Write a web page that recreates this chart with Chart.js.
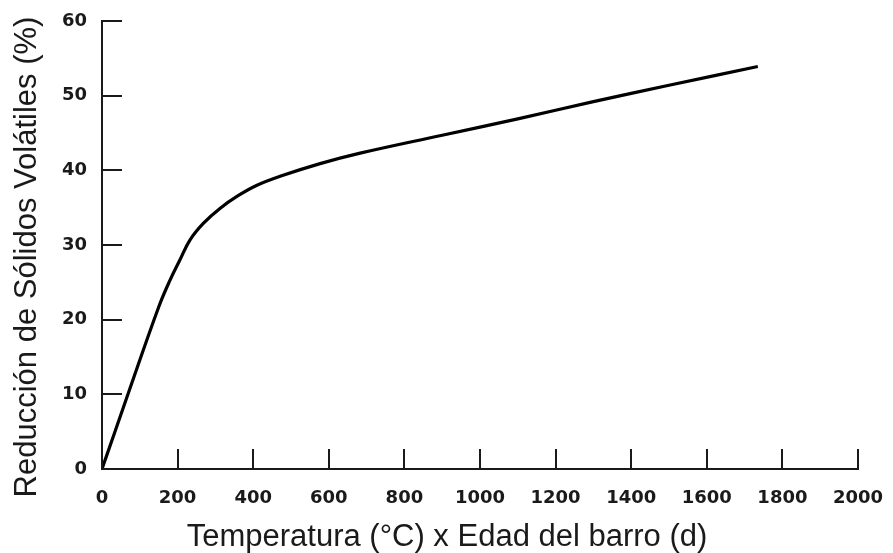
<!DOCTYPE html>
<html>
<head>
<meta charset="utf-8">
<script src="https://cdn.jsdelivr.net/npm/chart.js@4"></script>
<style>
  html, body { margin: 0; padding: 0; background: #fff; }
  #wrap { width: 893px; height: 553px; }
</style>
</head>
<body>
<div id="wrap"><canvas id="myChart" width="893" height="553"></canvas></div>
<script>
// valores
var xVals = [0, 70, 150, 180, 206, 233, 268, 312, 360, 410, 471, 577, 683, 900, 1100, 1300, 1500, 1735];
var yVals = [0, 10.2, 21.7, 25.3, 28.0, 30.7, 32.9, 34.9, 36.6, 38.0, 39.2, 40.9, 42.3, 44.7, 46.9, 49.2, 51.4, 53.9];
var xTicks = [0, 200, 400, 600, 800, 1000, 1200, 1400, 1600, 1800, 2000];
var yTicks = [0, 10, 20, 30, 40, 50, 60];
var xTitle = 'Temperatura (°C) x Edad del barro (d)';
var yTitle = 'Reducción de Sólidos Volátiles (%)';

var points = xVals.map(function (x, i) { return { x: x, y: yVals[i] }; });

// marcas de eje hacia dentro + titulos de ejes
var axisExtras = {
  id: 'axisExtras',
  afterDraw: function (chart) {
    var ctx = chart.ctx;
    var xs = chart.scales.x, ys = chart.scales.y;
    var area = chart.chartArea;
    ctx.save();
    ctx.strokeStyle = '#1a1a1a';
    ctx.lineWidth = 2;
    ctx.beginPath();
    yTicks.forEach(function (v) {
      var py = Math.round(ys.getPixelForValue(v));
      ctx.moveTo(area.left, py);
      ctx.lineTo(area.left + 20, py);
    });
    xTicks.forEach(function (v) {
      var px = Math.round(xs.getPixelForValue(v));
      ctx.moveTo(px, area.bottom);
      ctx.lineTo(px, area.bottom - 20);
    });
    ctx.stroke();

    ctx.fillStyle = '#1a1a1a';
    ctx.font = '31px "Liberation Sans", Arial, sans-serif';
    ctx.textAlign = 'center';
    ctx.textBaseline = 'alphabetic';
    ctx.fillText(xTitle, 447, 546);

    ctx.translate(36, 257);
    ctx.rotate(-Math.PI / 2);
    ctx.fillText(yTitle, 0, 0);
    ctx.restore();
  }
};

var tickFont = { family: 'DejaVu Sans', size: 18, weight: 'bold', lineHeight: 1 };

var ctx = document.getElementById('myChart').getContext('2d');
var myChart = new Chart(ctx, {
  type: 'scatter',
  data: {
    datasets: [{
      data: points,
      showLine: true,
      borderColor: '#000',
      borderWidth: 3.2,
      pointRadius: 0,
      fill: false,
      tension: 0.4
    }]
  },
  options: {
    responsive: false,
    animation: false,
    layout: { padding: { left: 0, right: 35, top: 21, bottom: 0 } },
    plugins: { legend: { display: false }, tooltip: { enabled: false } },
    scales: {
      x: {
        type: 'linear',
        min: 0,
        max: 2000,
        afterFit: function (s) { s.height = 84; s.paddingLeft = 0; s.paddingRight = 0; },
        afterBuildTicks: function (s) { s.ticks = xTicks.map(function (v) { return { value: v }; }); },
        grid: { display: true, drawOnChartArea: false, drawTicks: false },
        border: { display: true, color: '#1a1a1a', width: 2 },
        ticks: {
          color: '#1a1a1a', font: tickFont, padding: 20, maxRotation: 0, autoSkip: false,
          callback: function (v) { return String(v); }
        }
      },
      y: {
        type: 'linear',
        min: 0,
        max: 60,
        afterFit: function (s) { s.width = 102; s.paddingTop = 0; s.paddingBottom = 0; },
        afterBuildTicks: function (s) { s.ticks = yTicks.map(function (v) { return { value: v }; }); },
        grid: { display: true, drawOnChartArea: false, drawTicks: false },
        border: { display: true, color: '#1a1a1a', width: 2 },
        ticks: {
          color: '#1a1a1a', font: tickFont, padding: 15,
          callback: function (v) { return String(v); }
        }
      }
    }
  },
  plugins: [axisExtras]
});
</script>
</body>
</html>
